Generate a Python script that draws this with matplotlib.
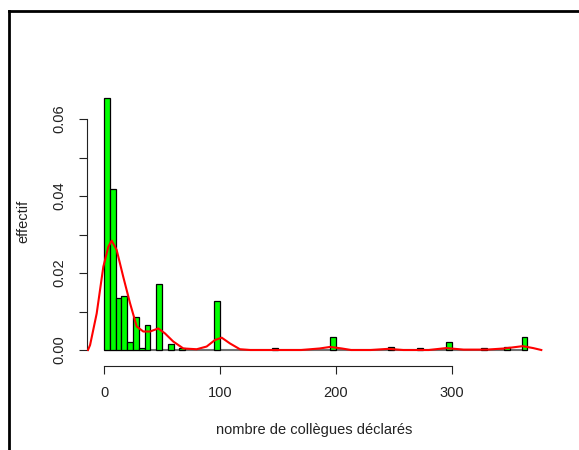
import matplotlib
matplotlib.use("Agg")
import matplotlib.pyplot as plt
from matplotlib.lines import Line2D

plt.rcParams['font.family'] = ['Liberation Sans', 'DejaVu Sans']

# histogram (density scale), bins of width 5, only non-empty bins listed
bin_left = [0, 5, 10, 15, 20, 25, 30, 35, 45, 55, 65, 95, 145, 195, 245, 270, 295, 325, 345, 360]
bin_dens = [0.0654, 0.0418, 0.0134, 0.0139, 0.0021, 0.0087, 0.0004, 0.0065, 0.0171, 0.0016,
            0.0004, 0.0127, 0.0004, 0.0033, 0.0009, 0.0004, 0.0021, 0.0004, 0.0009, 0.0033]
bin_width = 5
hist_end = 365

# kernel density curve
dens_x = [-13.8, -12, -6.3, -0.6, 3.7, 6.6, 10.9, 16.6, 22.4, 28.2, 33.9, 39.7, 46.8, 52.6,
          59.7, 68.4, 79.9, 88.5, 95.7, 101.5, 108.6, 117.2, 126, 170, 186, 195, 205, 213,
          230, 245, 258, 280, 295, 310, 330, 345, 361, 370, 377]
dens_y = [0.0, 0.0013, 0.0095, 0.0216, 0.0268, 0.0284, 0.0260, 0.0190, 0.0122, 0.0061,
          0.0048, 0.0048, 0.0056, 0.0043, 0.0022, 0.0004, 0.0002, 0.0009, 0.0026, 0.0032,
          0.0017, 0.0002, 0.0, 0.0, 0.0004, 0.0008, 0.0004, 0.0, 0.0, 0.0003, 0.0, 0.0,
          0.0005, 0.0001, 0.0001, 0.0004, 0.0010, 0.0005, 0.0]

x_ticks = [0, 100, 200, 300]
y_ticks = [0.00, 0.01, 0.02, 0.03, 0.04, 0.05, 0.06]
y_labels = ['0.00', '', '0.02', '', '0.04', '', '0.06']

W, H = 579, 450
fig = plt.figure(figsize=(W / 100, H / 100), dpi=100)

# axes placed in pixels: left 87, right 545, bottom 366, top 60
ax = fig.add_axes([87 / W, (H - 366) / H, (545 - 87) / W, (366 - 60) / H])
ax.set_xlim(-14.66, 380.2)
ax.set_ylim(-16 / 3850, 290 / 3850)

ax.hlines(0, 0, hist_end, color='#707070', lw=1.5, zorder=1)
ax.bar(bin_left, bin_dens, width=bin_width, align='edge', color='#00ff00',
       edgecolor='black', linewidth=0.9, zorder=2)
ax.plot(dens_x, dens_y, color='#ff0000', lw=1.5, zorder=3)

for s in ['top', 'right']:
    ax.spines[s].set_visible(False)
ax.spines['left'].set_bounds(0, 0.06)
ax.spines['bottom'].set_bounds(0, 300)
for s in ['left', 'bottom']:
    ax.spines[s].set_linewidth(0.8)
    ax.spines[s].set_color('#222222')

ax.set_xticks(x_ticks)
ax.set_yticks(y_ticks)
ax.set_yticklabels(y_labels, rotation=90, va='center')
ax.tick_params(axis='both', direction='out', length=5.5, width=0.8, color='#222222',
               labelsize=10.5, labelcolor='#222222')
ax.tick_params(axis='x', pad=9)
ax.tick_params(axis='y', pad=9)

fig.text(23 / W, 1 - 221 / H, 'effectif', rotation=90, ha='center', va='center',
         fontsize=10.5, color='#222222')
fig.text(314 / W, 1 - 430 / H, 'nombre de collègues déclarés', ha='center', va='center',
         fontsize=10.5, color='#222222')

# screenshot frame (top and left edges)
fig.add_artist(Line2D([9 / W, 1], [1 - 11 / H, 1 - 11 / H], transform=fig.transFigure,
                      color='black', lw=2))
fig.add_artist(Line2D([9 / W, 9 / W], [0, 1 - 11 / H], transform=fig.transFigure,
                      color='black', lw=2))

fig.savefig('out.png', dpi=100)
